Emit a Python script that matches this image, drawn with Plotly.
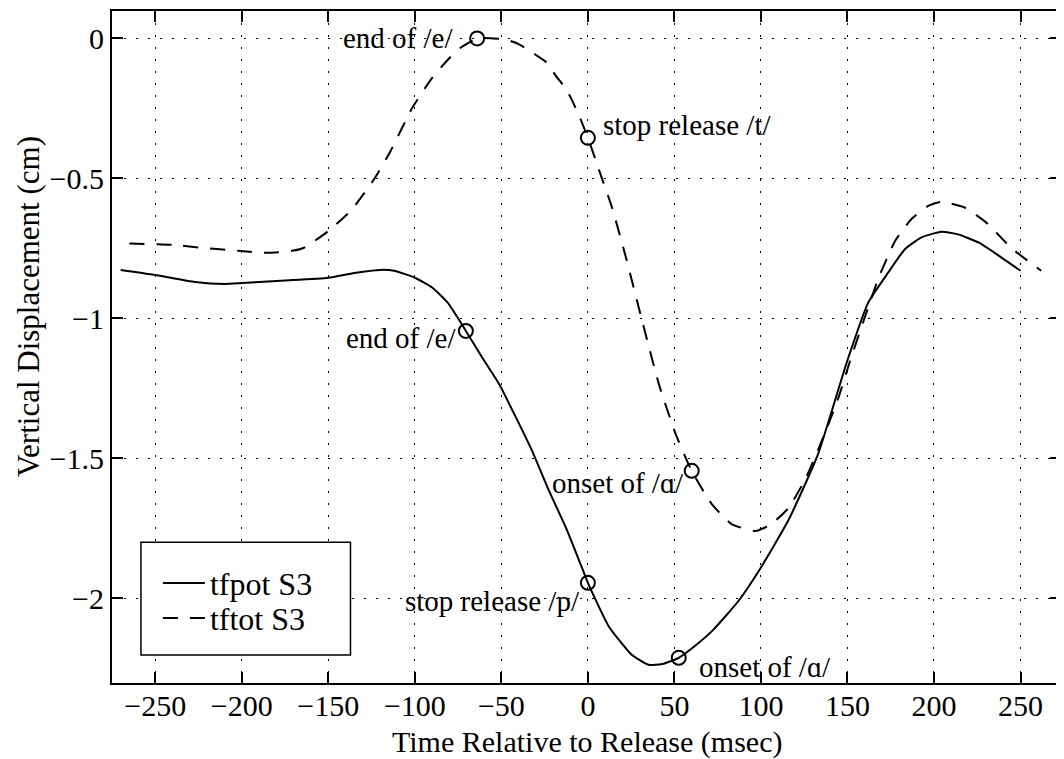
import plotly.graph_objects as go

# ---- data ----
tfpot_t = [-270, -250, -227, -210, -200, -175, -150, -135, -120, -112, -100, -90, -81,
           -70.5, -61, -51.3, -41.5, -32.3, -22.5, -12.7, -3.5, 0, 12, 25, 35, 43, 52.5,
           62, 72, 87, 100, 116, 133, 150, 162, 173.6, 183.2, 192.8, 204.3, 214, 226,
           239, 250]
tfpot_y = [-0.827, -0.845, -0.870, -0.877, -0.874, -0.865, -0.855, -0.838, -0.827, -0.830,
           -0.855, -0.890, -0.944, -1.045, -1.141, -1.235, -1.355, -1.473, -1.616, -1.748,
           -1.890, -1.945, -2.100, -2.200, -2.238, -2.235, -2.213, -2.170, -2.116, -2.010,
           -1.890, -1.720, -1.485, -1.150, -0.944, -0.836, -0.753, -0.711, -0.691, -0.700,
           -0.730, -0.783, -0.830]

tftot_t = [-265, -240, -223, -202, -185, -171, -164, -150, -137, -123, -114, -101.5, -90,
           -80, -74, -64, -55, -48, -40, -31, -24, -18.5, -12.7, -9, -5, 0, 8, 14, 22, 31,
           41, 50.7, 60, 71.5, 83, 97, 106, 116, 126, 137, 145, 151.5, 160, 168, 177.6,
           187, 196.7, 204, 218, 231, 244.5, 262]
tftot_y = [-0.733, -0.737, -0.748, -0.759, -0.766, -0.759, -0.748, -0.688, -0.616, -0.498,
           -0.402, -0.248, -0.141, -0.070, -0.035, 0.000, 0.000, -0.003, -0.020, -0.055,
           -0.085, -0.134, -0.180, -0.223, -0.277, -0.355, -0.498, -0.605, -0.783, -1.000,
           -1.235, -1.413, -1.545, -1.663, -1.735, -1.760, -1.735, -1.677, -1.570, -1.410,
           -1.280, -1.152, -0.997, -0.855, -0.723, -0.645, -0.598, -0.584, -0.605, -0.662,
           -0.748, -0.830]

# event markers
tfpot_evt_t = [-70.5, 0, 52.5]
tfpot_evt_y = [-1.045, -1.945, -2.213]
tftot_evt_t = [-64, 0, 60]
tftot_evt_y = [0.000, -0.355, -1.545]

# event labels
label_text = ["end of /e/", "stop release /t/", "onset of /ɑ/",
              "end of /e/", "stop release /p/", "onset of /ɑ/"]
label_x = [-77, 7.5, 56.5, -75, -3.5, 63]
label_y = [0.0, -0.31, -1.588, -1.07, -2.01, -2.245]
label_anchor = ["right", "left", "right", "right", "right", "left"]

x_ticks = [-250, -200, -150, -100, -50, 0, 50, 100, 150, 200, 250]
y_ticks = [0, -0.5, -1, -1.5, -2]

FONT = "Liberation Serif"

fig = go.Figure()
fig.add_trace(go.Scatter(x=tfpot_t, y=tfpot_y, mode="lines", name="tfpot S3", legend="legend",
                         line=dict(color="black", width=2, shape="spline", smoothing=0.5)))
fig.add_trace(go.Scatter(x=tftot_t, y=tftot_y, mode="lines", name="tftot S3", legend="legend2",
                         line=dict(color="black", width=2, dash="15px,12px",
                                   shape="spline", smoothing=0.5)))
fig.add_trace(go.Scatter(x=tfpot_evt_t, y=tfpot_evt_y, mode="markers", showlegend=False,
                         marker=dict(symbol="circle-open", size=14, color="black",
                                     line=dict(width=2, color="black"))))
fig.add_trace(go.Scatter(x=tftot_evt_t, y=tftot_evt_y, mode="markers", showlegend=False,
                         marker=dict(symbol="circle-open", size=14, color="black",
                                     line=dict(width=2, color="black"))))

for txt, lx, ly, anc in zip(label_text, label_x, label_y, label_anchor):
    fig.add_annotation(x=lx, y=ly, xref="x", yref="y", text=txt, showarrow=False,
                       xanchor=anc, yanchor="middle",
                       font=dict(family=FONT, size=29, color="black"))

# axis titles
fig.add_annotation(x=0.5, y=-0.0877, xref="paper", yref="paper",
                   text="Time Relative to Release (msec)", showarrow=False,
                   xanchor="center", yanchor="middle",
                   font=dict(family=FONT, size=30, color="black"))
fig.add_annotation(x=-0.0883, y=0.560, xref="paper", yref="paper",
                   text="Vertical Displacement (cm)", showarrow=False, textangle=-90,
                   xanchor="center", yanchor="middle",
                   font=dict(family=FONT, size=31, color="black"))

# legend box
fig.add_shape(type="rect", xref="paper", yref="paper", x0=0.0305, x1=0.2513,
              y0=0.0416, y1=0.2095, fillcolor="white",
              line=dict(color="black", width=1.5), layer="above")

axis_common = dict(showline=True, linecolor="black", linewidth=2, mirror="ticks",
                   ticks="inside", ticklen=11, tickwidth=1.5, tickcolor="black",
                   showgrid=True, gridcolor="black", gridwidth=1.3, griddash="2px,10px",
                   zeroline=False, tickfont=dict(family=FONT, size=30, color="black"))

fig.update_xaxes(range=[-275, 273.4], tickvals=x_ticks, ticklabelstandoff=-5, **axis_common)
fig.update_yaxes(range=[-2.303, 0.098], tickvals=y_ticks, **axis_common)

leg_common = dict(xanchor="left", yanchor="middle", bgcolor="rgba(0,0,0,0)", borderwidth=0,
                  itemwidth=42, font=dict(family=FONT, size=32, color="black"))
fig.update_layout(
    width=1056, height=751,
    margin=dict(l=104, r=1, t=2, b=76),
    plot_bgcolor="white", paper_bgcolor="white",
    font=dict(family=FONT, color="black", size=30),
    showlegend=True,
    legend=dict(x=0.0484, y=0.1486, **leg_common),
    legend2=dict(x=0.0484, y=0.0966, **leg_common),
)

fig.write_html("out.html")
